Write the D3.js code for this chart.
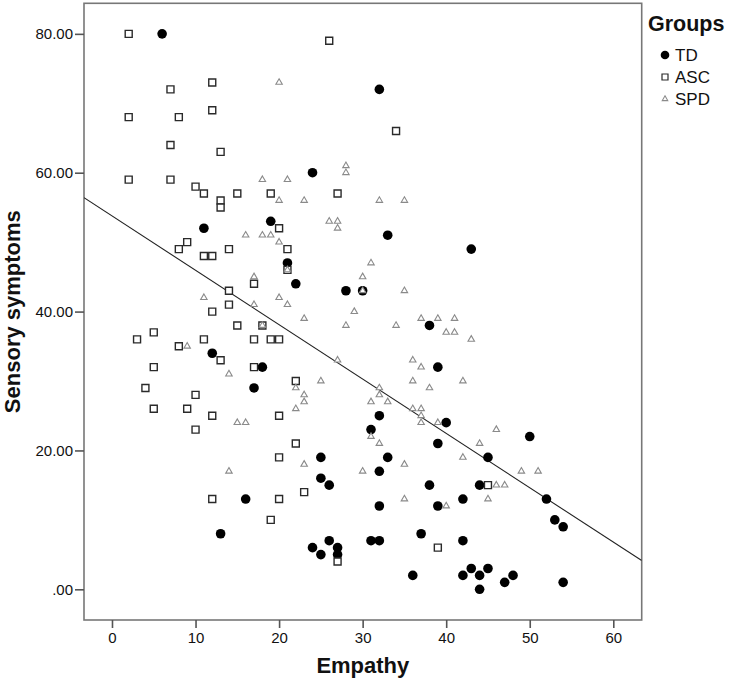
<!DOCTYPE html>
<html>
<head>
<meta charset="utf-8">
<script src="https://cdn.jsdelivr.net/npm/d3@7"></script>
<style>
  html, body { margin: 0; padding: 0; background: #fff; }
  svg { display: block; font-family: "Liberation Sans", Arial, sans-serif; }
</style>
</head>
<body>
<svg id="chart" width="729" height="681"></svg>
<script>
// ---- Data (Empathy, Sensory symptoms) ----
const tdPoints = [
  [6,80],[11,52],[32,72],[24,60],[19,53],[33,51],[43,49],[21,47],[22,44],[28,43],[30,43],
  [38,38],[18,32],[17,29],[12,34],[39,32],[32,25],[31,23],[40,24],[39,21],[50,22],[16,13],
  [13,8],[25,19],[33,19],[32,17],[25,16],[26,15],[32,12],[38,15],[39,12],[42,13],[44,15],
  [24,6],[25,5],[26,7],[27,6],[27,5],[31,7],[32,7],[37,8],[42,7],[36,2],[42,2],[43,3],
  [45,19],[52,13],[53,10],[54,9],[45,3],[44,2],[44,0],[47,1],[48,2],[54,1]
];
const ascPoints = [
  [2,80],[12,73],[7,72],[2,68],[8,68],[12,69],[7,64],[13,63],[2,59],[7,59],[10,58],[11,57],
  [15,57],[13,56],[13,55],[26,79],[34,66],[19,57],[27,57],[20,52],[14,49],[21,49],[21,46],
  [17,44],[14,43],[14,41],[15,38],[18,38],[17,36],[19,36],[20,36],[17,32],[22,30],[20,25],
  [22,21],[8,49],[9,50],[11,48],[12,48],[12,40],[3,36],[5,37],[8,35],[11,36],[13,33],[5,32],
  [4,29],[10,28],[5,26],[9,26],[12,25],[10,23],[12,13],[20,19],[20,13],[23,14],[19,10],
  [27,4],[39,6],[45,15]
];
const spdPoints = [
  [20,73],[28,61],[28,60],[18,59],[21,59],[20,56],[23,56],[32,56],[35,56],[26,53],[27,53],
  [27,52],[16,51],[18,51],[19,51],[20,50],[21,46],[31,47],[17,45],[30,45],[30,43],[35,43],
  [20,42],[21,41],[17,41],[29,40],[23,39],[18,38],[28,38],[34,38],[37,39],[39,39],[41,39],
  [40,37],[41,37],[43,36],[27,33],[36,33],[37,32],[36,30],[38,29],[42,30],[25,30],[22,29],
  [23,28],[23,27],[22,26],[15,24],[16,24],[32,29],[32,28],[31,27],[33,27],[31,22],[32,21],
  [36,26],[37,26],[37,25],[37,24],[39,24],[44,21],[46,23],[11,42],[9,35],[14,31],[14,17],
  [23,18],[35,18],[30,17],[42,19],[35,13],[40,12],[49,17],[51,17],[46,15],[47,15],[45,13]
];
const groupNames = ["TD", "ASC", "SPD"];
const xTicks = [0, 10, 20, 30, 40, 50, 60];
const yTicks = [0, 20, 40, 60, 80];
const xDomain = [-3.35, 63.4];
const yDomain = [-4.42, 84.4];
// fit line: Sensory = intercept + slope * Empathy
const fitIntercept = 53.78;
const fitSlope = -0.783;

// ---- Layout ----
const svg = d3.select("#chart");
const plot = { left: 84, right: 641.7, top: 3.3, bottom: 620 };

const x = d3.scaleLinear().domain(xDomain).range([plot.left, plot.right]);
const y = d3.scaleLinear().domain(yDomain).range([plot.bottom, plot.top]);

svg.append("rect").attr("width", 729).attr("height", 681).attr("fill", "#fff");

svg.append("clipPath").attr("id", "plotClip")
  .append("rect")
  .attr("x", plot.left).attr("y", plot.top)
  .attr("width", plot.right - plot.left).attr("height", plot.bottom - plot.top);

// frame
svg.append("rect")
  .attr("x", plot.left).attr("y", plot.top)
  .attr("width", plot.right - plot.left).attr("height", plot.bottom - plot.top)
  .attr("fill", "none").attr("stroke", "#777").attr("stroke-width", 1.6);

// axes
const fmtY = v => { const s = d3.format(".2f")(v); return s.startsWith("0") ? s.slice(1) : s; };

const xAxis = svg.append("g")
  .attr("transform", `translate(0,${plot.bottom})`)
  .call(d3.axisBottom(x).tickValues(xTicks).tickFormat(d3.format("d")).tickSize(8).tickSizeOuter(0).tickPadding(4));
const yAxis = svg.append("g")
  .attr("transform", `translate(${plot.left},0)`)
  .call(d3.axisLeft(y).tickValues(yTicks).tickFormat(fmtY).tickSize(9).tickSizeOuter(0).tickPadding(2));

[xAxis, yAxis].forEach(g => {
  g.select(".domain").remove();
  g.selectAll(".tick line").attr("stroke", "#555").attr("stroke-width", 1.6);
  g.selectAll(".tick text")
    .attr("fill", "#111")
    .style("font-family", '"Liberation Sans", Arial, sans-serif')
    .style("font-size", "15px");
});

// axis titles
svg.append("text")
  .attr("x", (plot.left + plot.right) / 2).attr("y", 673)
  .attr("text-anchor", "middle")
  .attr("font-weight", "bold").attr("font-size", 22).attr("fill", "#111")
  .text("Empathy");
svg.append("text")
  .attr("transform", `translate(20,${(plot.top + plot.bottom) / 2}) rotate(-90)`)
  .attr("text-anchor", "middle")
  .attr("font-weight", "bold").attr("font-size", 22).attr("fill", "#111")
  .text("Sensory symptoms");

// fit line
svg.append("line")
  .attr("clip-path", "url(#plotClip)")
  .attr("x1", x(xDomain[0])).attr("y1", y(fitIntercept + fitSlope * xDomain[0]))
  .attr("x2", x(xDomain[1])).attr("y2", y(fitIntercept + fitSlope * xDomain[1]))
  .attr("stroke", "#222").attr("stroke-width", 1.1);

// markers
const symCircle = d3.symbol().type(d3.symbolCircle).size(Math.PI * 4.8 * 4.8);
const symSquare = d3.symbol().type(d3.symbolSquare).size(7 * 7);
const symTri = d3.symbol().type(d3.symbolTriangle).size(18);

const styles = {
  TD:  { data: tdPoints,  path: symCircle(), fill: "#000", stroke: "none", sw: 0 },
  ASC: { data: ascPoints, path: symSquare(), fill: "#fff", stroke: "#2a2a2a", sw: 1.4 },
  SPD: { data: spdPoints, path: symTri(),    fill: "#fff", stroke: "#8a8a8a", sw: 1.1 }
};

groupNames.forEach(name => {
  const st = styles[name];
  svg.append("g").selectAll("path")
    .data(st.data)
    .join("path")
    .attr("d", st.path)
    .attr("transform", d => `translate(${x(d[0])},${y(d[1])})`)
    .attr("fill", st.fill)
    .attr("stroke", st.stroke)
    .attr("stroke-width", st.sw);
});

// legend
const leg = svg.append("g");
leg.append("text")
  .attr("x", 648).attr("y", 31)
  .attr("font-weight", "bold").attr("font-size", 21.5).attr("fill", "#111")
  .text("Groups");
const legSyms = {
  TD:  d3.symbol().type(d3.symbolCircle).size(Math.PI * 4.3 * 4.3)(),
  ASC: d3.symbol().type(d3.symbolSquare).size(36)(),
  SPD: d3.symbol().type(d3.symbolTriangle).size(13)()
};
groupNames.forEach((name, i) => {
  const st = styles[name];
  const cy = 55 + i * 22;
  leg.append("path")
    .attr("d", legSyms[name])
    .attr("transform", `translate(665,${cy})`)
    .attr("fill", st.fill).attr("stroke", st.stroke).attr("stroke-width", name === "ASC" ? 1.2 : st.sw);
  leg.append("text")
    .attr("x", 675).attr("y", cy + 6)
    .attr("font-size", 17).attr("fill", "#111")
    .text(name);
});
</script>
</body>
</html>
